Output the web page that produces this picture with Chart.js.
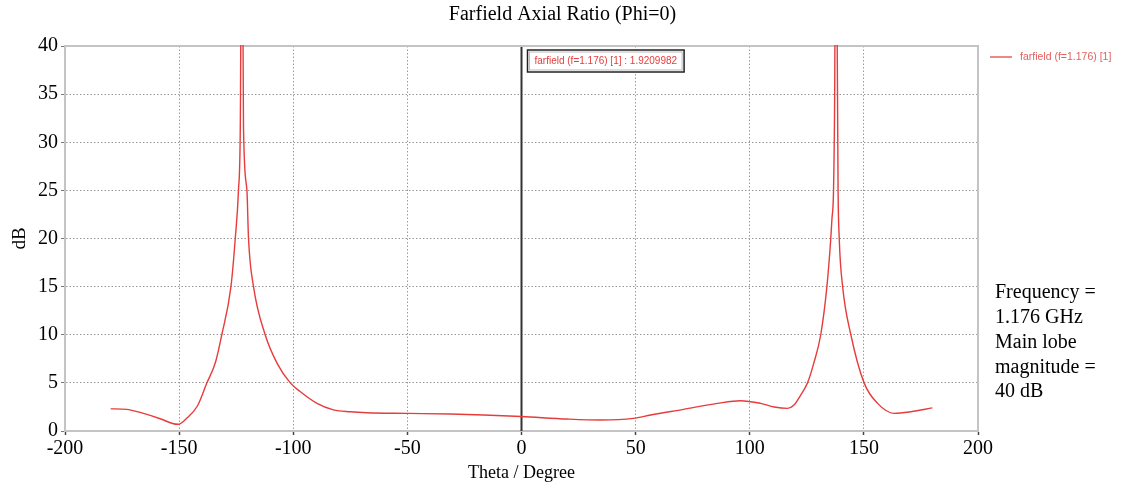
<!DOCTYPE html>
<html>
<head>
<meta charset="utf-8">
<script src="https://cdn.jsdelivr.net/npm/chart.js@4"></script>
<style>
  html, body { margin: 0; padding: 0; background: #fff; }
  #wrap { width: 1125px; height: 491px; }
</style>
</head>
<body>
<div id="wrap"><canvas id="c" width="1125" height="491"></canvas></div>
<script>
// ---- data ----
const chartTitle = "Farfield Axial Ratio (Phi=0)";
const seriesName = "farfield (f=1.176) [1]";
const markerText = "farfield (f=1.176) [1] : 1.9209982";
const noteLines = ["Frequency =", "1.176 GHz", "Main lobe", "magnitude =", "40 dB"];
const xTitle = "Theta / Degree";
const yTitle = "dB";
const xTicks = [-200, -150, -100, -50, 0, 50, 100, 150, 200];
const yTicks = [0, 5, 10, 15, 20, 25, 30, 35, 40];

const thetaValues = [-180, -173, -166, -158, -152.5, -150.4, -146.6, -142, -138, -134, -131.3, -127.3, -125.4, -124, -123.2, -122.5, -121.8, -120.3, -119.6, -117.4, -112.3, -107, -101.3, -97, -89.6, -82.4, -75, -67.7, -50, -31, -16.6, 0, 20, 34.6, 49, 56.6, 71, 85.8, 96, 104.8, 110.7, 116.5, 119.4, 122, 125.3, 128, 131.1, 133.8, 135.5, 136, 136.7, 137.2, 137.7, 138.7, 139.2, 140.7, 144.3, 150.1, 156, 163.3, 170.6, 180];
const arValues = [2.3, 2.25, 1.85, 1.25, 0.75, 0.7, 1.35, 2.6, 4.9, 7.2, 10, 15, 20, 25, 31.6, 60, 31.6, 25, 20, 15, 10, 7, 5, 4.1, 2.87, 2.2, 2.0, 1.9, 1.83, 1.76, 1.66, 1.5, 1.24, 1.14, 1.31, 1.66, 2.25, 2.87, 3.15, 2.87, 2.5, 2.35, 2.7, 3.6, 5, 7, 10, 15, 20, 22, 25, 34.7, 60, 25, 20, 15, 10, 5, 2.87, 1.83, 2.0, 2.4];

const points = thetaValues.map((t, i) => ({ x: t, y: arValues[i] }));
const SERIF = "'Liberation Serif', 'Times New Roman', serif";
const SANS = "'Liberation Sans', Arial, sans-serif";
const RED = "#e63c3c";

const decorPlugin = {
  id: 'decor',
  beforeDatasetsDraw(chart) {
    const { ctx, chartArea: a, scales } = chart;
    ctx.save();
    // zero line
    const x0 = scales.x.getPixelForValue(0);
    ctx.strokeStyle = '#333';
    ctx.lineWidth = 2;
    ctx.beginPath();
    ctx.moveTo(x0, a.top);
    ctx.lineTo(x0, a.bottom);
    ctx.stroke();
    // top and right frame
    ctx.strokeStyle = '#c4c4c4';
    ctx.lineWidth = 2;
    ctx.beginPath();
    ctx.moveTo(a.left, a.top);
    ctx.lineTo(a.right, a.top);
    ctx.lineTo(a.right, a.bottom);
    ctx.stroke();
    ctx.restore();
  },
  afterDraw(chart) {
    const { ctx, chartArea: a, scales, width } = chart;
    ctx.save();
    // title (centred on the whole figure)
    ctx.fillStyle = '#000';
    ctx.font = "20px " + SERIF;
    ctx.textAlign = 'center';
    ctx.textBaseline = 'middle';
    ctx.fillText(chartTitle, width / 2, 15);
    // marker box
    const bx = scales.x.getPixelForValue(0) + 6;
    const by = a.top + 4;
    ctx.font = "10px " + SANS;
    ctx.textAlign = 'left';
    const tw = ctx.measureText(markerText).width;
    const bw = tw + 14, bh = 22;
    ctx.fillStyle = '#fff';
    ctx.fillRect(bx, by, bw, bh);
    ctx.strokeStyle = '#222';
    ctx.lineWidth = 1.5;
    ctx.strokeRect(bx, by, bw, bh);
    ctx.strokeStyle = '#bbb';
    ctx.lineWidth = 1;
    ctx.strokeRect(bx + 2, by + 2, bw - 4, bh - 4);
    ctx.fillStyle = RED;
    ctx.fillText(markerText, bx + 7, by + bh / 2 + 0.5);
    // legend
    const lx = a.right + 12, ly = a.top + 11;
    ctx.strokeStyle = '#e86060';
    ctx.lineWidth = 1.5;
    ctx.beginPath();
    ctx.moveTo(lx, ly);
    ctx.lineTo(lx + 22, ly);
    ctx.stroke();
    ctx.fillStyle = '#e06060';
    ctx.font = "10.5px " + SANS;
    ctx.fillText(seriesName, lx + 30, ly + 0.5);
    // note
    ctx.fillStyle = '#000';
    ctx.font = "20px " + SERIF;
    noteLines.forEach((s, i) => ctx.fillText(s, a.right + 17, 293 + i * 24.8));
    ctx.restore();
  }
};

new Chart(document.getElementById('c'), {
  type: 'line',
  data: {
    datasets: [{
      label: seriesName,
      data: points,
      borderColor: RED,
      borderWidth: 1.4,
      pointRadius: 0,
      cubicInterpolationMode: 'monotone',
      clip: 1,
      fill: false
    }]
  },
  options: {
    responsive: false,
    animation: false,
    layout: { padding: { left: 0, right: 147, top: 46, bottom: 0 } },
    plugins: {
      legend: { display: false },
      tooltip: { enabled: false },
      title: { display: false }
    },
    scales: {
      x: {
        type: 'linear',
        min: -200, max: 200,
        afterFit: s => { s.height = 60; },
        afterBuildTicks: s => { s.ticks = xTicks.map(v => ({ value: v })); },
        ticks: { color: '#000', font: { family: SERIF, size: 20 }, padding: 2, maxRotation: 0, autoSkip: false },
        grid: {
          color: c => (c.tick && (c.tick.value === 0 || Math.abs(c.tick.value) === 200)) ? 'rgba(0,0,0,0)' : '#9a9a9a',
          lineWidth: 1,
          tickLength: 4,
          tickColor: '#444',
          tickWidth: 1.5
        },
        border: { display: true, color: '#c4c4c4', width: 2, dash: [1.5, 2] },
        title: { display: true, text: xTitle, color: '#000', font: { family: SERIF, size: 18 }, padding: { top: 0, bottom: 7 } }
      },
      y: {
        type: 'linear',
        min: 0, max: 40,
        afterFit: s => { s.width = 65; },
        afterBuildTicks: s => { s.ticks = yTicks.map(v => ({ value: v })); },
        ticks: { color: '#000', font: { family: SERIF, size: 20 }, padding: 3 },
        grid: {
          color: c => (c.tick && (c.tick.value === 0 || c.tick.value === 40)) ? 'rgba(0,0,0,0)' : '#9a9a9a',
          lineWidth: 1,
          tickLength: 4,
          tickColor: '#777',
          tickWidth: 1
        },
        border: { display: true, color: '#c4c4c4', width: 2, dash: [1.5, 2] },
        title: { display: true, text: yTitle, color: '#000', font: { family: SERIF, size: 19 }, padding: { top: 9, bottom: 0 } }
      }
    }
  },
  plugins: [decorPlugin]
});
</script>
</body>
</html>
